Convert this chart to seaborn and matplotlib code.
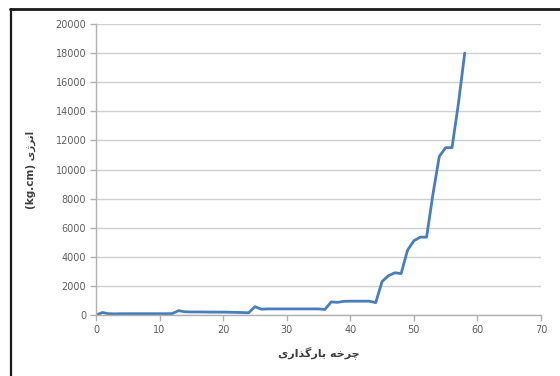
import matplotlib
matplotlib.use("Agg")
import matplotlib.pyplot as plt
import seaborn as sns
import pandas as pd
from matplotlib.lines import Line2D

# Loading cycle vs. energy
cycles = list(range(0, 59))
energy = [
    0, 170, 90, 80, 90, 90, 90, 90, 90, 90,
    90, 90, 100, 300, 220, 210, 210, 210, 200, 200,
    200, 190, 180, 170, 150, 570, 400, 420, 420, 420,
    420, 420, 420, 420, 420, 420, 380, 900, 870, 940,
    950, 950, 950, 950, 850, 2300, 2700, 2900, 2850, 4450,
    5100, 5350, 5350, 8300, 10900, 11500, 11500, 14500, 18000,
]
x_ticks = [0, 10, 20, 30, 40, 50, 60, 70]
y_ticks = [0, 2000, 4000, 6000, 8000, 10000, 12000, 14000, 16000, 18000, 20000]

# Persian labels written in visual (left-to-right) order with contextual glyph forms
x_label = "\uFBFC\uFEAD\uFE8D\uFEAC\uFB94\uFEAD\uFE8E\uFE91 \uFEEA\uFEA7\uFEAE\uFB7C"   # چرخه بارگذاری
y_label = "(kg.cm) \uFBFC\uFB8A\uFEAE\uFEE7\uFE8D"                                    # انرژی (kg.cm)

df = pd.DataFrame({"cycle": cycles, "energy": energy})

sns.set_theme(style="white")
plt.rcParams["font.family"] = ["DejaVu Sans", "Noto Sans"]

fig = plt.figure(figsize=(5.6, 3.76), dpi=100)
ax = fig.add_axes([96 / 560, 1 - 315 / 376, (541 - 96) / 560, (315 - 24) / 376])

sns.lineplot(data=df, x="cycle", y="energy", ax=ax, color="#4A7EBB", linewidth=2.0)

ax.set_xlim(0, 70)
ax.set_ylim(0, 20000)
ax.set_xticks(x_ticks)
ax.set_yticks(y_ticks)
ax.set_xticklabels([str(v) for v in x_ticks])
ax.set_yticklabels([str(v) for v in y_ticks])

ax.yaxis.grid(True, color="#D0D0D0", linewidth=1.0)
ax.xaxis.grid(False)
ax.set_axisbelow(True)

for side in ("top", "right"):
    ax.spines[side].set_visible(False)
for side in ("left", "bottom"):
    ax.spines[side].set_color("#B0B0B0")
    ax.spines[side].set_linewidth(1.0)

ax.tick_params(axis="both", which="major", labelsize=7, labelcolor="#606060",
               color="#B0B0B0", direction="out", length=4, width=1, pad=3,
               left=True, bottom=True)

ax.set_xlabel(x_label, fontsize=8, fontweight="bold", color="#404040", labelpad=8)
ax.set_ylabel(y_label, fontsize=7.5, fontweight="bold", color="#404040", labelpad=14)

# Outer frame lines (top and left edges)
fig.add_artist(Line2D([10 / 560, 1], [1 - 8.5 / 376, 1 - 8.5 / 376],
                      transform=fig.transFigure, color="#1a1a1a", linewidth=2.0))
fig.add_artist(Line2D([10.5 / 560, 10.5 / 560], [0, 1 - 8.5 / 376],
                      transform=fig.transFigure, color="#1a1a1a", linewidth=1.6))

fig.savefig("out.png", dpi=100, facecolor="white")
